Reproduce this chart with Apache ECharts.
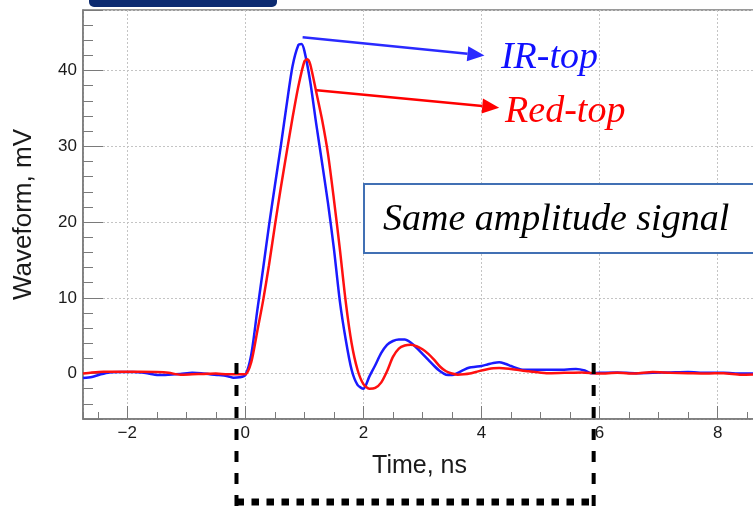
<!DOCTYPE html>
<html>
<head>
<meta charset="utf-8">
<script src="https://cdn.jsdelivr.net/npm/echarts@6/dist/echarts.min.js"></script>
<style>
  html, body { margin: 0; padding: 0; background: #fff; }
  #chart { width: 753px; height: 506px; }
</style>
</head>
<body>
<div id="chart"></div>
<script>
// Time axis (ns) and waveform (mV)
const irTime = [-2.75, -2.6, -2.45, -2.3, -2.1, -1.9, -1.75, -1.6, -1.45, -1.3, -1.1, -0.9, -0.75, -0.6, -0.45, -0.3, -0.2, -0.1,
  0.0, 0.1, 0.2, 0.3, 0.4, 0.5, 0.6, 0.7, 0.8, 0.9, 0.95, 1.0, 1.1, 1.2, 1.3, 1.4, 1.5, 1.6, 1.7, 1.8, 1.9, 2.0,
  2.1, 2.2, 2.3, 2.4, 2.5, 2.6, 2.7, 2.8, 2.9, 3.0, 3.1, 3.2, 3.3, 3.4, 3.5, 3.6, 3.7, 3.8, 3.9, 4.0,
  4.1, 4.2, 4.3, 4.4, 4.5, 4.6, 4.7, 5.0, 5.3, 5.6, 5.75, 5.85,
  6.0, 6.3, 6.6, 6.9, 7.2, 7.5, 7.8, 8.1, 8.4, 8.65];
const irWave = [-0.6, -0.45, -0.1, 0.15, 0.2, 0.2, 0.15, -0.05, -0.2, -0.15, -0.05, 0.1, 0.05, -0.1, -0.2, -0.35, -0.55, -0.5,
  -0.2, 2.5, 8.2, 13.8, 19.5, 24.8, 30.0, 35.5, 40.6, 43.4, 43.5, 42.6, 38.5, 33.0, 27.8, 22.5, 16.5, 9.6, 4.5, 0.5, -1.5, -2.0,
  -0.4, 1.1, 2.7, 3.8, 4.3, 4.5, 4.5, 4.1, 3.4, 2.6, 1.8, 1.0, 0.3, -0.15, -0.2, 0.1, 0.5, 0.8, 0.9, 1.0,
  1.2, 1.4, 1.5, 1.3, 1.0, 0.7, 0.5, 0.5, 0.5, 0.6, 0.4, 0.05,
  0.1, 0.15, 0.05, 0.1, 0.15, 0.2, 0.1, 0.1, 0.0, 0.0];

const redTime = [-2.75, -2.6, -2.4, -2.1, -1.8, -1.5, -1.3, -1.1, -0.9, -0.7, -0.5, -0.3, -0.1,
  0.0, 0.1, 0.2, 0.3, 0.4, 0.5, 0.6, 0.7, 0.8, 0.9, 1.0, 1.05, 1.1, 1.2, 1.3, 1.4, 1.5, 1.6, 1.7, 1.8, 1.9, 2.0,
  2.1, 2.2, 2.3, 2.4, 2.5, 2.6, 2.7, 2.8, 2.9, 3.0, 3.1, 3.2, 3.3, 3.4, 3.5, 3.6, 3.7, 3.8, 3.9, 4.0,
  4.2, 4.3, 4.5, 4.8, 5.1, 5.4, 5.7,
  6.0, 6.3, 6.6, 6.9, 7.2, 7.5, 7.8, 8.1, 8.4, 8.65];
const redWave = [0.0, 0.15, 0.25, 0.25, 0.25, 0.2, 0.1, -0.15, -0.1, -0.05, 0.0, -0.1, -0.1,
  -0.1, 1.5, 5.5, 9.6, 14.3, 19.5, 24.5, 29.2, 33.8, 38.0, 41.2, 41.5, 40.8, 37.2, 33.5, 29.0, 23.0, 16.5, 9.5, 4.0, 0.5, -1.4,
  -2.0, -1.9, -1.2, 0.3, 2.2, 3.3, 3.7, 3.8, 3.6, 3.2, 2.6, 1.8, 0.9, 0.3, 0.0, -0.15, -0.1, 0.0, 0.2, 0.4,
  0.7, 0.75, 0.6, 0.3, 0.05, 0.1, 0.15,
  0.0, 0.1, 0.0, 0.2, 0.1, 0.05, 0.0, 0.05, -0.15, -0.1];

const majorTicksY = [0, 10, 20, 30, 40];
const xMin = -2.75, xMax = 8.65, yMin = -6, yMax = 48;

// arrow anchors (data coordinates): from near each peak to its label
const irArrow = [[0.97, 44.4], [4.05, 42.0]];
const redArrow = [[1.21, 37.4], [4.30, 35.1]];

const irData = irTime.map((t, i) => [t, irWave[i]]);
const redData = redTime.map((t, i) => [t, redWave[i]]);

const axisGrey = '#7a7a7a';
const labelFont = { fontFamily: 'Liberation Sans', fontSize: 17, color: '#1a1a1a' };
const gridLine = { show: true, lineStyle: { color: '#c4c4c4', type: [2, 2], width: 1 } };

const chart = echarts.init(document.getElementById('chart'));

chart.setOption({
  animation: false,
  grid: {
    left: 83, right: -3, top: 10, bottom: 87,
    outerBoundsMode: 'none', containLabel: false,
    show: true, borderColor: axisGrey, borderWidth: 1.5, backgroundColor: 'transparent'
  },
  xAxis: [
    {
      // minor ticks every 0.5 ns
      type: 'value', min: xMin, max: xMax, splitNumber: 23, position: 'bottom',
      axisLine: { show: true, onZero: false, lineStyle: { color: axisGrey, width: 1.5 } },
      axisTick: { show: true, inside: true, length: 7, lineStyle: { color: axisGrey } },
      axisLabel: { show: false },
      splitLine: { show: false }
    },
    {
      // major ticks every 2 ns
      type: 'value', min: xMin, max: xMax, splitNumber: 5, position: 'bottom',
      axisLine: { show: false, onZero: false },
      axisTick: { show: true, inside: true, length: 13, lineStyle: { color: axisGrey } },
      axisLabel: {
        ...labelFont, margin: 6, showMinLabel: false, showMaxLabel: false,
        formatter: v => (v < 0 ? '\u2212' + Math.abs(v) : String(v))
      },
      splitLine: gridLine,
      name: 'Time, ns', nameLocation: 'middle', nameGap: 35,
      nameTextStyle: { fontFamily: 'Liberation Sans', fontSize: 25, color: '#1a1a1a' }
    }
  ],
  yAxis: [
    {
      // minor ticks every 2 mV
      type: 'value', min: yMin, max: yMax, interval: 2, position: 'left',
      axisLine: { show: true, onZero: false, lineStyle: { color: axisGrey, width: 1.5 } },
      axisTick: { show: true, inside: true, length: 10, lineStyle: { color: axisGrey } },
      axisLabel: { show: false },
      splitLine: { show: false }
    },
    {
      type: 'value', min: yMin, max: yMax, splitNumber: 5, position: 'left',
      axisLine: { show: false, onZero: false },
      axisTick: { show: true, inside: true, length: 20, lineStyle: { color: axisGrey } },
      axisLabel: {
        ...labelFont, margin: 6,
        formatter: v => (majorTicksY.indexOf(v) >= 0 ? String(v) : '')
      },
      splitLine: gridLine,
      name: 'Waveform, mV', nameLocation: 'middle', nameGap: 46,
      nameTextStyle: { fontFamily: 'Liberation Sans', fontSize: 26, color: '#1a1a1a' }
    }
  ],
  series: [
    {
      name: 'IR-top', type: 'line', data: irData, xAxisIndex: 0, yAxisIndex: 0,
      showSymbol: false, smooth: 0.25, lineStyle: { color: '#1a1aff', width: 2.5 }
    },
    {
      name: 'Red-top', type: 'line', data: redData, xAxisIndex: 0, yAxisIndex: 0,
      showSymbol: false, smooth: 0.25, lineStyle: { color: '#ff1010', width: 2.5 }
    }
  ]
});

// annotations placed from data coordinates
const px = (p) => chart.convertToPixel({ xAxisIndex: 0, yAxisIndex: 0 }, p);
const leftX = px([-0.15, 0])[0];
const rightX = px([5.9, 0])[0];

function arrow(pts, color) {
  const a = px(pts[0]), b = px(pts[1]);
  const ang = Math.atan2(b[1] - a[1], b[0] - a[0]);
  const len = 17, half = 7.5;
  const base = [b[0] - len * Math.cos(ang), b[1] - len * Math.sin(ang)];
  const nx = -Math.sin(ang) * half, ny = Math.cos(ang) * half;
  return [
    { type: 'line', z: 12, shape: { x1: a[0], y1: a[1], x2: base[0], y2: base[1] },
      style: { stroke: color, lineWidth: 2.5 } },
    { type: 'polygon', z: 12, shape: { points: [b, [base[0] + nx, base[1] + ny], [base[0] - nx, base[1] - ny]] },
      style: { fill: color } }
  ];
}

const irLab = px([4.33, irArrow[1][1]]);
const redLab = px([4.4, redArrow[1][1]]);

chart.setOption({
  graphic: [
    { type: 'rect', shape: { x: 89, y: -12, width: 188, height: 19, r: 5 }, style: { fill: '#0b2a70' } },
    { type: 'rect', z: 10, shape: { x: 364, y: 184, width: 400, height: 69 },
      style: { fill: '#fff', stroke: '#4170b4', lineWidth: 2 } },
    { type: 'text', z: 11, x: 383, y: 220,
      style: { text: 'Same amplitude signal', font: 'italic 38px "Liberation Serif"', fill: '#000', verticalAlign: 'middle' } },
    { type: 'text', z: 11, x: irLab[0], y: irLab[1] + 3,
      style: { text: 'IR-top', font: 'italic 38px "Liberation Serif"', fill: '#1010ff', verticalAlign: 'middle' } },
    { type: 'text', z: 11, x: redLab[0], y: redLab[1] + 4,
      style: { text: 'Red-top', font: 'italic 38px "Liberation Serif"', fill: '#ff0000', verticalAlign: 'middle' } },
    ...arrow(irArrow, '#2a2aff'),
    ...arrow(redArrow, '#ff0000'),
    { type: 'line', z: 12, shape: { x1: leftX, y1: 363, x2: leftX, y2: 506 },
      style: { stroke: '#000', lineWidth: 4, lineDash: [11, 11] } },
    { type: 'line', z: 12, shape: { x1: rightX, y1: 363, x2: rightX, y2: 506 },
      style: { stroke: '#000', lineWidth: 4, lineDash: [11, 11] } },
    { type: 'line', z: 12, shape: { x1: leftX, y1: 502, x2: rightX, y2: 502 },
      style: { stroke: '#000', lineWidth: 7, lineDash: [7.5, 7.5] } }
  ]
});
</script>
</body>
</html>
